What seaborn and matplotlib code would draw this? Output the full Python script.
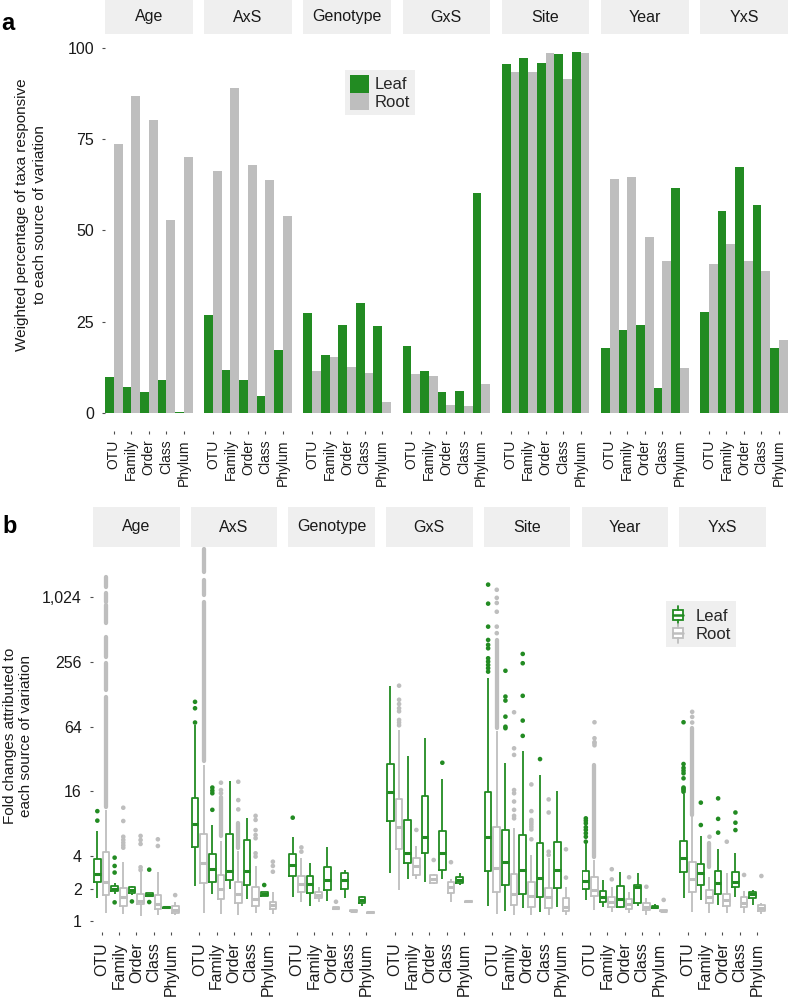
import numpy as np
import pandas as pd
import matplotlib
matplotlib.use("Agg")
import matplotlib.pyplot as plt
from matplotlib.patches import Rectangle, Patch
from matplotlib.lines import Line2D
from matplotlib.legend_handler import HandlerBase
from matplotlib.ticker import NullLocator
import seaborn as sns

# ------------------------------------------------------------------ data
FACETS = ["Age", "AxS", "Genotype", "GxS", "Site", "Year", "YxS"]
LEVELS = ["OTU", "Family", "Order", "Class", "Phylum"]
TISSUES = ["Leaf", "Root"]

# panel a: weighted % of taxa responsive (rows = facets, cols = levels)
LEAF_PCT = [
    [9.9, 7.0, 5.6, 8.9, 0.3],
    [26.7, 11.7, 9.1, 4.7, 17.2],
    [27.3, 15.8, 24.2, 30.1, 23.8],
    [18.3, 11.4, 5.6, 6.0, 60.2],
    [95.5, 97.3, 95.8, 98.3, 98.7],
    [17.8, 22.6, 24.0, 6.9, 61.5],
    [27.6, 55.3, 67.3, 56.8, 17.8],
]
ROOT_PCT = [
    [73.7, 86.9, 80.1, 52.7, 70.2],
    [66.2, 88.9, 68.0, 63.7, 53.8],
    [11.6, 15.3, 12.7, 10.9, 3.0],
    [10.6, 10.1, 2.2, 2.0, 7.9],
    [93.2, 93.2, 98.4, 91.4, 98.4],
    [64.0, 64.7, 48.1, 41.5, 12.2],
    [40.9, 46.2, 41.6, 38.9, 20.0],
]

# panel b: box statistics (whisker low, Q1, median, Q3, whisker high)
# order: OTU-Leaf, OTU-Root, Family-Leaf, Family-Root, Order-Leaf, Order-Root,
#        Class-Leaf, Class-Root, Phylum-Leaf, Phylum-Root
BOX_AGE = [
    (1.63, 2.29, 2.72, 3.75, 6.92), (1.19, 1.73, 2.32, 4.38, 10.8),
    (1.80, 1.90, 1.99, 2.13, 2.25), (1.16, 1.39, 1.68, 2.04, 3.56),
    (1.75, 1.83, 1.95, 2.06, 2.10), (1.12, 1.44, 1.52, 1.79, 2.86),
    (1.69, 1.71, 1.75, 1.81, 1.83), (1.14, 1.28, 1.44, 1.74, 2.87),
    (1.32, 1.33, 1.34, 1.36, 1.37), (1.14, 1.18, 1.26, 1.39, 1.51),
]
BOX_AXS = [
    (2.13, 4.91, 7.98, 13.8, 66.5), (1.19, 2.27, 3.44, 6.40, 28.0),
    (1.78, 2.32, 3.03, 4.20, 7.80), (1.16, 1.60, 1.97, 2.68, 5.50),
    (1.98, 2.41, 2.94, 6.44, 20.2), (1.14, 1.46, 1.78, 2.32, 4.50),
    (1.59, 2.16, 2.92, 5.66, 9.00), (1.19, 1.39, 1.59, 2.08, 3.25),
    (1.70, 1.72, 1.78, 1.85, 1.88), (1.16, 1.28, 1.41, 1.51, 1.87),
]
BOX_GENOTYPE = [
    (1.66, 2.62, 3.32, 4.17, 6.07), (1.49, 1.87, 2.21, 2.62, 3.83),
    (1.39, 1.81, 2.19, 2.64, 3.44), (1.51, 1.63, 1.74, 1.87, 2.08),
    (1.53, 1.94, 2.41, 3.16, 4.91), (1.27, 1.28, 1.31, 1.34, 1.36),
    (1.63, 1.97, 2.41, 2.81, 2.98), (1.23, 1.24, 1.25, 1.26, 1.27),
    (1.39, 1.46, 1.57, 1.66, 1.71), (1.19, 1.195, 1.20, 1.205, 1.21),
]
BOX_GXS = [
    (2.78, 8.57, 15.9, 28.7, 153.0), (1.94, 4.64, 7.44, 13.5, 60.0),
    (2.44, 3.44, 4.32, 8.70, 34.2), (2.44, 2.68, 3.25, 3.83, 4.98),
    (2.32, 4.26, 6.07, 14.5, 50.6), (2.22, 2.27, 2.44, 2.68, 2.75),
    (2.44, 2.98, 4.32, 6.92, 20.8), (1.51, 1.81, 2.06, 2.32, 2.44),
    (2.16, 2.24, 2.41, 2.58, 2.78), (1.50, 1.51, 1.53, 1.55, 1.56),
]
BOX_SITE = [
    (1.39, 2.92, 6.07, 15.9, 183.0), (1.16, 1.87, 3.13, 7.52, 58.0),
    (1.25, 2.16, 3.52, 7.02, 29.3), (1.14, 1.41, 1.78, 2.74, 7.27),
    (1.31, 1.78, 2.98, 6.31, 38.4), (1.14, 1.36, 1.71, 2.32, 4.11),
    (1.22, 1.68, 2.50, 5.28, 22.8), (1.14, 1.31, 1.66, 2.01, 3.83),
    (1.36, 2.01, 2.98, 5.39, 16.3), (1.14, 1.25, 1.36, 1.63, 2.08),
]
BOX_YEAR = [
    (1.57, 1.97, 2.37, 2.92, 5.28), (1.27, 1.71, 1.94, 2.55, 3.69),
    (1.36, 1.51, 1.68, 1.91, 2.41), (1.22, 1.36, 1.49, 1.66, 2.08),
    (1.31, 1.36, 1.59, 2.13, 2.87), (1.19, 1.28, 1.44, 1.59, 1.87),
    (1.39, 1.48, 2.06, 2.16, 2.78), (1.14, 1.27, 1.36, 1.48, 1.63),
    (1.31, 1.31, 1.34, 1.39, 1.44), (1.23, 1.24, 1.25, 1.26, 1.27),
]
BOX_YXS = [
    (1.63, 2.84, 3.83, 5.58, 15.2), (1.22, 1.87, 2.44, 3.56, 9.20),
    (1.57, 2.16, 2.78, 3.39, 6.18), (1.18, 1.46, 1.68, 1.94, 2.58),
    (1.41, 1.78, 2.27, 2.92, 4.64), (1.18, 1.39, 1.57, 1.78, 2.78),
    (1.68, 2.08, 2.32, 2.87, 4.26), (1.18, 1.34, 1.48, 1.68, 1.91),
    (1.41, 1.63, 1.78, 1.87, 1.94), (1.16, 1.25, 1.31, 1.41, 1.46),
]
BOXES = [BOX_AGE, BOX_AXS, BOX_GENOTYPE, BOX_GXS, BOX_SITE, BOX_YEAR, BOX_YXS]

# individual outliers
OUT_AGE = {
    ("OTU", "Leaf"): [8.57, 10.5],
    ("Family", "Leaf"): [1.49, 2.82, 3.25, 3.88],
    ("Family", "Root"): [4.8, 5.05, 5.35, 5.68, 6.07, 8.5, 11.3],
    ("Order", "Leaf"): [1.52],
    ("Order", "Root"): [2.98, 3.16, 5.2, 5.66, 6.18],
    ("Class", "Leaf"): [1.50, 3.0],
    ("Class", "Root"): [4.98, 5.75],
    ("Phylum", "Root"): [1.74],
}
OUT_AXS = {
    ("OTU", "Leaf"): [70.0, 95.0, 109.0],
    ("Family", "Leaf"): [10.8, 15.4, 16.3, 17.4],
    ("Family", "Root"): [15.4, 16.5, 19.3],
    ("Order", "Root"): [10.9, 13.3, 19.7],
    ("Class", "Root"): [3.97, 4.26, 5.88, 6.3, 7.0, 8.7, 9.5],
    ("Phylum", "Leaf"): [2.16],
    ("Phylum", "Root"): [2.87, 3.25, 3.56],
}
OUT_GENOTYPE = {
    ("OTU", "Leaf"): [9.13],
    ("OTU", "Root"): [4.41, 4.83],
    ("Order", "Root"): [1.51],
}
OUT_GXS = {
    ("OTU", "Root"): [66.0, 70.0, 74.0, 89.0, 95.0, 104.0, 114.0, 154.0],
    ("Family", "Root"): [7.02],
    ("Order", "Root"): [3.69],
    ("Class", "Leaf"): [29.6],
    ("Class", "Root"): [3.52],
}
OUT_SITE = {
    ("OTU", "Leaf"): [208, 224, 240, 258, 277, 343, 369, 410, 545, 892, 1340],
    ("OTU", "Root"): [474, 545, 750, 905, 1010, 1200],
    ("Family", "Leaf"): [62.0, 64.0, 79.4, 112.0, 122.0, 212.0],
    ("Family", "Root"): [9.0, 9.5, 10.8, 12.9, 15.4, 16.5, 35.0, 40.3, 87.2],
    ("Order", "Leaf"): [52.6, 73.0, 124.0, 249.0, 304.0],
    ("Order", "Root"): [5.75, 7.1, 7.5, 7.9, 8.3, 8.7, 10.5, 18.6],
    ("Class", "Leaf"): [32.0],
    ("Class", "Root"): [4.11, 4.41, 10.2, 13.5],
    ("Phylum", "Root"): [2.53, 4.64],
}
OUT_YEAR = {
    ("OTU", "Leaf"): [5.46, 6.07, 6.54, 7.02, 7.44, 8.1, 8.57, 9.0],
    ("OTU", "Root"): [43.0, 45.0, 46.0, 50.0, 70.4],
    ("Family", "Root"): [2.44, 3.03],
    ("Order", "Root"): [2.55],
    ("Class", "Root"): [2.08],
    ("Phylum", "Root"): [1.57],
}
OUT_YXS = {
    ("OTU", "Leaf"): [15.9, 16.5, 17.0, 17.4, 21.2, 23.6, 25.0, 26.5, 28.8, 70.4],
    ("OTU", "Root"): [70.0, 79.0, 88.0],
    ("Family", "Leaf"): [7.8, 12.6],
    ("Family", "Root"): [6.07],
    ("Order", "Leaf"): [6.63, 8.9, 13.8],
    ("Order", "Root"): [5.46],
    ("Class", "Leaf"): [7.0, 8.2, 10.2],
    ("Class", "Root"): [2.68],
    ("Phylum", "Root"): [2.62],
}
OUTLIERS = [OUT_AGE, OUT_AXS, OUT_GENOTYPE, OUT_GXS, OUT_SITE, OUT_YEAR, OUT_YXS]

# stretches of outliers so dense that the points merge (facet, level, tissue, low, high)
DENSE_RUNS = [
    ("Age", "OTU", "Root", 11.5, 121), ("Age", "OTU", "Root", 141, 251),
    ("Age", "OTU", "Root", 286, 438), ("Age", "OTU", "Root", 590, 870),
    ("Age", "OTU", "Root", 928, 1110), ("Age", "OTU", "Root", 1280, 1580),
    ("AxS", "OTU", "Root", 31, 926), ("AxS", "OTU", "Root", 1075, 1480),
    ("AxS", "OTU", "Root", 1760, 2880),
    ("AxS", "Family", "Root", 6.2, 14.1), ("AxS", "Order", "Root", 4.74, 8.1),
    ("Site", "OTU", "Root", 62, 410),
    ("Year", "OTU", "Root", 3.9, 28.3),
    ("YxS", "OTU", "Root", 9.6, 62), ("YxS", "Family", "Root", 3.2, 5.28),
]

# ------------------------------------------------------------------ style
GREEN = "#228B22"
GREY = "#BEBEBE"
STRIP = "#EFEFEF"
TXT = "#1A1A1A"
PAL = {"Leaf": GREEN, "Root": GREY}
DODGE = {"Leaf": -0.25, "Root": 0.25}

sns.set_theme(style="white")
plt.rcParams["font.family"] = ["Liberation Sans", "DejaVu Sans"]

W, H = 788, 997
fig = plt.figure(figsize=(W / 100, H / 100), dpi=100)


def add_ax(left, top, width, bottom):
    return fig.add_axes([left / W, 1 - bottom / H, width / W, (bottom - top) / H])


def add_strip(left, top, width, bottom, label):
    fig.add_artist(Rectangle((left / W, 1 - bottom / H), width / W, (bottom - top) / H,
                             transform=fig.transFigure, fc=STRIP, ec="none"))
    fig.text((left + width / 2) / W, 1 - (top + bottom) / 2 / H, label,
             ha="center", va="center", fontsize=11.5, color=TXT)


def style_ax(ax, first, xsize, xpad):
    for s in ax.spines.values():
        s.set_visible(False)
    ax.set_facecolor("white")
    ax.set_xlabel("")
    ax.set_ylabel("")
    ax.tick_params(axis="both", length=2, width=0.8, color="#4D4D4D",
                   labelcolor=TXT, bottom=True, left=True)
    ax.tick_params(axis="x", pad=xpad, labelsize=xsize)
    ax.tick_params(axis="y", pad=6, labelsize=11.5)
    if not first:
        ax.tick_params(axis="y", left=False, labelleft=False)


# ------------------------------------------------------------------ panel a
bar_rows = []
for fi, f in enumerate(FACETS):
    for li, lv in enumerate(LEVELS):
        bar_rows.append((f, lv, "Leaf", LEAF_PCT[fi][li]))
        bar_rows.append((f, lv, "Root", ROOT_PCT[fi][li]))
bars = pd.DataFrame(bar_rows, columns=["facet", "level", "tissue", "pct"])

A_LEFT, A_STEP, A_W, A_TOP, A_BOT = 105, 99.2, 87.5, 34.5, 431
for fi, f in enumerate(FACETS):
    left = A_LEFT + A_STEP * fi
    ax = add_ax(left, A_TOP, A_W, A_BOT)
    sub = bars[bars.facet == f]
    sns.barplot(data=sub, x="level", y="pct", hue="tissue", order=LEVELS,
                hue_order=TISSUES, palette=PAL, width=1, gap=0, saturation=1,
                linewidth=0, errorbar=None, legend=False, ax=ax)
    ax.set_xlim(-0.5, 4.5)
    ax.set_ylim(-4.94, 103.6)
    ax.set_yticks([0, 25, 50, 75, 100])
    ax.set_xticks(range(len(LEVELS)))
    ax.set_xticklabels(LEVELS, rotation=90)
    style_ax(ax, fi == 0, 10, 4)
    add_strip(left, 0, A_W, 34, f)

fig.text(31 / W, 1 - 215 / H,
         "Weighted percentage of taxa responsive\nto each source of variation",
         rotation=90, ha="center", va="center", fontsize=11, color=TXT,
         multialignment="center", linespacing=1.35)
fig.text(1 / W, 1 - 30 / H, "a", fontsize=17, fontweight="bold", va="baseline",
         ha="left", color="black")

leg_a = fig.legend(handles=[Patch(fc=GREEN, ec="none"), Patch(fc=GREY, ec="none")],
                   labels=TISSUES, loc="upper left",
                   bbox_to_anchor=(345 / W, 1 - 70 / H), frameon=True,
                   facecolor=STRIP, edgecolor="none", framealpha=1, fancybox=False,
                   fontsize=12, handlelength=1.15, handleheight=1.25,
                   labelspacing=0, handletextpad=0.35, borderpad=0.3,
                   borderaxespad=0)

# ------------------------------------------------------------------ panel b
box_rows = []
for f, boxes in zip(FACETS, BOXES):
    k = 0
    for li, lv in enumerate(LEVELS):
        for t in TISSUES:
            for v in boxes[k]:
                box_rows.append((f, li, t, v))
            k += 1
boxdf = pd.DataFrame(box_rows, columns=["facet", "pos", "tissue", "value"])

out_rows = []
for f, outs in zip(FACETS, OUTLIERS):
    for (lv, t), vals in outs.items():
        for v in vals:
            out_rows.append((f, LEVELS.index(lv) + DODGE[t], t, v))
outdf = pd.DataFrame(out_rows, columns=["facet", "pos", "tissue", "value"])

B_LEFT, B_STEP, B_W, B_TOP, B_BOT = 93, 97.7, 86.5, 547, 932
for fi, f in enumerate(FACETS):
    left = B_LEFT + B_STEP * fi
    ax = add_ax(left, B_TOP, B_W, B_BOT)
    sub = boxdf[boxdf.facet == f]
    sns.boxplot(data=sub, x="pos", y="value", hue="tissue", hue_order=TISSUES,
                palette=PAL, native_scale=True, orient="x", width=1, gap=0.23,
                whis=np.inf, fill=False, linewidth=1.3, log_scale=(False, 2),
                showcaps=False, medianprops={"linewidth": 2.2}, legend=False,
                ax=ax)
    for (rf, lv, t, lo, hi) in DENSE_RUNS:
        if rf == f:
            ax.vlines(LEVELS.index(lv) + DODGE[t], lo, hi, colors=PAL[t],
                      linewidth=3.1, capstyle="round", zorder=3)
    osub = outdf[outdf.facet == f]
    if len(osub):
        sns.scatterplot(data=osub, x="pos", y="value", hue="tissue",
                        hue_order=TISSUES, palette=PAL, s=11, linewidth=0,
                        legend=False, ax=ax, zorder=3)
    ax.set_yscale("log", base=2)
    ax.set_xlim(-0.5, 4.5)
    ax.set_ylim(2 ** -0.34, 2 ** 11.55)
    ax.set_yticks([1, 2, 4, 16, 64, 256, 1024])
    ax.set_yticklabels(["1", "2", "4", "16", "64", "256", "1,024"])
    ax.yaxis.set_minor_locator(NullLocator())
    ax.set_xticks(range(len(LEVELS)))
    ax.set_xticklabels(LEVELS, rotation=90)
    style_ax(ax, fi == 0, 11.4, 5.5)
    add_strip(left, 507, B_W, 547, f)

fig.text(18 / W, 1 - 736 / H,
         "Fold changes attributed to\neach source of variation",
         rotation=90, ha="center", va="center", fontsize=11, color=TXT,
         multialignment="center", linespacing=1.15)
fig.text(2 / W, 1 - 533 / H, "b", fontsize=17, fontweight="bold", va="baseline",
         ha="left", color="black")


class BoxIconHandler(HandlerBase):
    def create_artists(self, legend, orig_handle, xdescent, ydescent, width,
                       height, fontsize, trans):
        c = orig_handle.get_edgecolor()
        x0, y0 = -xdescent, -ydescent
        bw = width * 0.5
        bx = x0 + (width - bw) / 2 - width * 0.12
        cx = bx + bw / 2
        box = Rectangle((bx, y0 + height * 0.22), bw, height * 0.56, fc="white",
                        ec=c, lw=1.3, transform=trans)
        med = Line2D([bx, bx + bw], [y0 + height * 0.5] * 2, color=c, lw=1.8,
                     transform=trans)
        wl = Line2D([cx, cx], [y0 - height * 0.02, y0 + height * 0.22], color=c,
                    lw=1.3, transform=trans)
        wh = Line2D([cx, cx], [y0 + height * 0.78, y0 + height * 1.02], color=c,
                    lw=1.3, transform=trans)
        return [box, med, wl, wh]


leg_b = fig.legend(handles=[Patch(fc="white", ec=GREEN), Patch(fc="white", ec=GREY)],
                   labels=TISSUES, loc="upper left",
                   bbox_to_anchor=(666 / W, 1 - 601 / H), frameon=True,
                   facecolor=STRIP, edgecolor="none", framealpha=1, fancybox=False,
                   fontsize=12, handlelength=1.15, handleheight=1.3,
                   labelspacing=0, handletextpad=0.35, borderpad=0.3,
                   borderaxespad=0, handler_map={Patch: BoxIconHandler()})

fig.savefig("out.png", dpi=100)
